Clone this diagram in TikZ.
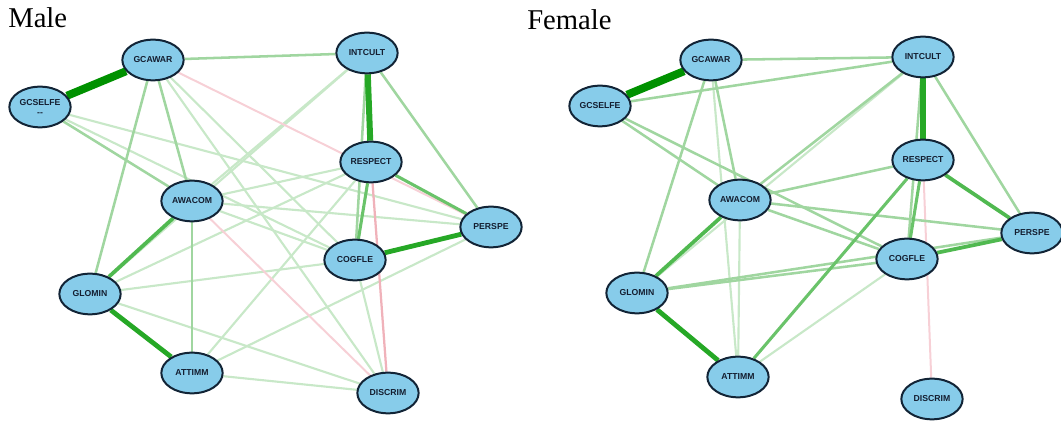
\documentclass[tikz,border=0pt]{standalone}
\usepackage{fontspec}
\setmainfont{Liberation Serif}
\newfontfamily\lblfont{Liberation Sans}
\usetikzlibrary{shapes.geometric,backgrounds}
\definecolor{nodefill}{RGB}{135,204,234}
\definecolor{nodeline}{RGB}{18,36,54}
\definecolor{nodetext}{RGB}{20,30,48}
\definecolor{gdark}{RGB}{0,145,0}
\definecolor{gstrong}{RGB}{38,168,38}
\definecolor{gmed}{RGB}{80,185,80}
\definecolor{glight}{RGB}{160,214,160}
\definecolor{gfaint}{RGB}{200,232,200}
\definecolor{rline}{RGB}{240,178,186}
\definecolor{rfaint}{RGB}{247,208,214}
\tikzset{
  var/.style={ellipse, draw=nodeline, line width=1.5pt, fill=nodefill,
    minimum width=46pt, minimum height=30.5pt, inner sep=0pt,
    font=\lblfont\bfseries\fontsize{6.5}{7}\selectfont, text=nodetext, align=center},
  title/.style={anchor=base west, font=\fontsize{21.5}{24}\selectfont, inner sep=0pt},
  ewide/.style={draw=gdark, line width=6pt},
  estrong/.style={draw=gstrong, line width=4.5pt},
  efive/.style={draw=gstrong, line width=3.6pt},
  emed/.style={draw=gmed, line width=2.8pt},
  ethree/.style={draw=gmed!85!white, line width=2.3pt},
  elight/.style={draw=glight, line width=1.9pt},
  efaint/.style={draw=gfaint, line width=1.6pt},
  ered/.style={draw=rline, line width=1.7pt},
  eredf/.style={draw=rfaint, line width=1.5pt},
}
\begin{document}
\begin{tikzpicture}[x=0.75pt,y=-0.75pt]
\useasboundingbox (0,0) rectangle (1061,423);
\node[title] (tmale) at (8,28) {Male};
\node[title] (tfemale) at (527,30) {Female};
% Male nodes
\node[var] (mGA) at (153,60) {GCAWAR};
\node[var] (mGS) at (40,107) {\raisebox{0pt}[0pt][0pt]{}GCSELFE\\[0.5pt]-{}-};
\node[var] (mIC) at (367,53) {INTCULT};
\node[var] (mRE) at (371,162) {RESPECT};
\node[var] (mAW) at (192,201) {AWACOM};
\node[var] (mPE) at (491,227) {PERSPE};
\node[var] (mCO) at (355,260) {COGFLE};
\node[var] (mGL) at (90,294) {GLOMIN};
\node[var] (mAT) at (192,373) {ATTIMM};
\node[var] (mDI) at (388,393) {DISCRIM};
% Female nodes
\node[var] (fGA) at (711,60) {GCAWAR};
\node[var] (fGS) at (600,106) {GCSELFE};
\node[var] (fIC) at (923,57) {INTCULT};
\node[var] (fRE) at (923,160) {RESPECT};
\node[var] (fAW) at (740,200) {AWACOM};
\node[var] (fPE) at (1032,233) {PERSPE};
\node[var] (fCO) at (907,259) {COGFLE};
\node[var] (fGL) at (637,293) {GLOMIN};
\node[var] (fAT) at (738,377) {ATTIMM};
\node[var] (fDI) at (932,399) {DISCRIM};
\begin{scope}[on background layer]
% Male edges: faint
\foreach \a/\b in {mGA/mCO, mGA/mDI, mGS/mCO, mGS/mPE, mIC/mAW, mIC/mGL, mAW/mRE, mAW/mPE, mAW/mCO, mGL/mRE, mGL/mCO, mGL/mDI, mAT/mRE, mAT/mPE, mAT/mDI, mCO/mDI}
  \draw[efaint] (\a) -- (\b);
\draw[eredf] (mGA) -- (mPE);
\draw[eredf] (mAW) -- (mDI);
\draw[ered] (mRE) -- (mDI);
\foreach \a/\b in {mGA/mIC, mGA/mGL, mGA/mAW, mGS/mAW, mIC/mPE, mIC/mCO, mAW/mAT}
  \draw[elight] (\a) -- (\b);
\draw[ethree] (mRE) -- (mCO);
\draw[ethree] (mRE) -- (mPE);
\draw[emed] (mAW) -- (mGL);
\draw[efive] (mCO) -- (mPE);
\draw[efive] (mGL) -- (mAT);
\draw[estrong] (mIC) -- (mRE);
\draw[ewide] (mGA) -- (mGS);
% Female edges
\foreach \a/\b in {fIC/fGL, fAW/fAT, fAT/fCO, fGA/fAT}
  \draw[efaint] (\a) -- (\b);
\draw[eredf] (fRE) -- (fDI);
\foreach \a/\b in {fGA/fIC, fGS/fIC, fGS/fAW, fGS/fCO, fGA/fGL, fGA/fAW, fIC/fAW, fIC/fPE, fIC/fCO, fRE/fAW, fAW/fPE, fAW/fCO, fGL/fCO, fGL/fPE}
  \draw[elight] (\a) -- (\b);
\draw[ethree] (fRE) -- (fAT);
\draw[ethree] (fRE) -- (fCO);
\draw[emed] (fRE) -- (fPE);
\draw[emed] (fCO) -- (fPE);
\draw[emed] (fAW) -- (fGL);
\draw[efive] (fGL) -- (fAT);
\draw[estrong] (fIC) -- (fRE);
\draw[ewide] (fGA) -- (fGS);
\end{scope}
\end{tikzpicture}
\end{document}
